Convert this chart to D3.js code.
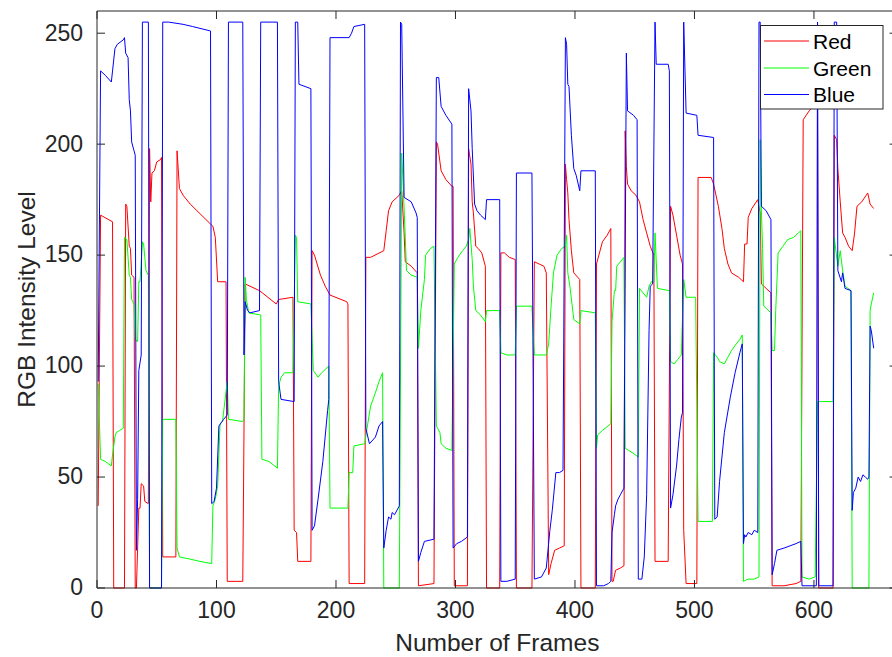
<!DOCTYPE html>
<html>
<head>
<meta charset="utf-8">
<script src="https://cdn.jsdelivr.net/npm/d3@7"></script>
<style>
  html, body { margin: 0; padding: 0; background: #fff; overflow: hidden; }
  svg { display: block; font-family: "Liberation Sans", Arial, Helvetica, sans-serif; }
</style>
</head>
<body>
<svg id="chart" width="892" height="657"></svg>
<script>
// ---- data (frame, intensity) ----
const redSeries = [[1,37],[3,168],[13,165],[14,0],[23,0],[24,173],[25,172],[27,154],[28,153],[29,141],[31,140],[32,0],[33,0],[35,36],[36,36],[37,47],[39,46],[40,39],[43,38],[44,198],[45,174],[46,187],[48,188],[50,192],[53,193],[54,194],[55,14],[66,14],[67,197],[69,180],[72,177],[78,173],[95,164],[97,163],[99,158],[101,138],[108,138],[109,3],[122,3],[124,137],[136,134],[150,128],[152,130],[164,131],[165,26],[167,25],[168,12],[179,12],[180,152],[182,150],[187,141],[191,136],[195,132],[209,129],[210,128],[211,2],[224,2],[225,149],[229,149],[240,152],[242,161],[244,170],[247,174],[253,177],[255,179],[257,160],[258,147],[263,145],[268,142],[269,1],[282,2],[284,201],[285,200],[288,188],[292,184],[297,181],[298,181],[299,1],[310,1],[311,198],[313,191],[314,174],[315,169],[317,154],[319,153],[322,151],[325,145],[326,0],[337,0],[338,151],[341,151],[345,149],[350,148],[351,0],[364,0],[366,147],[370,146],[374,145],[376,142],[378,6],[380,11],[383,17],[387,18],[391,19],[392,191],[393,184],[394,178],[395,166],[397,152],[399,142],[404,139],[405,0],[417,0],[418,146],[420,150],[423,156],[427,159],[430,162],[431,3],[432,3],[434,8],[438,9],[441,10],[442,206],[443,190],[444,182],[447,179],[451,177],[454,174],[457,166],[460,160],[463,154],[466,150],[467,12],[478,12],[480,172],[482,168],[485,159],[488,150],[490,146],[491,26],[493,2],[502,2],[503,185],[514,185],[516,182],[520,172],[523,162],[525,153],[528,146],[531,142],[537,140],[541,138],[542,155],[544,155],[545,167],[548,171],[553,175],[555,169],[556,137],[560,135],[564,133],[565,1],[575,1],[585,2],[589,3],[591,211],[596,215],[601,218],[603,220],[604,0],[616,0],[617,204],[619,202],[620,189],[622,174],[624,160],[626,158],[629,154],[632,152],[634,160],[636,172],[640,174],[645,178],[647,173],[650,171]];

const greenSeries = [[1,92],[3,58],[7,57],[12,55],[13,60],[15,68],[16,70],[19,71],[22,72],[23,158],[25,157],[27,141],[28,140],[29,130],[31,128],[32,112],[34,111],[35,138],[36,138],[38,156],[39,155],[41,143],[43,141],[44,0],[54,0],[55,76],[66,76],[67,18],[69,14],[78,13],[86,12],[96,11],[97,37],[99,40],[101,46],[103,74],[105,75],[109,93],[110,76],[122,75],[123,76],[124,140],[125,130],[127,124],[137,123],[138,58],[144,57],[151,54],[152,91],[154,95],[157,97],[164,97],[166,159],[167,158],[168,129],[179,128],[181,98],[185,95],[188,97],[194,100],[195,36],[210,36],[211,52],[214,52],[215,64],[224,65],[226,72],[229,82],[233,88],[236,93],[239,97],[240,0],[253,0],[255,196],[256,184],[258,158],[259,143],[263,141],[268,140],[269,108],[271,125],[274,139],[275,150],[279,153],[282,154],[284,73],[287,70],[288,65],[292,63],[297,62],[299,146],[302,149],[306,152],[309,154],[311,157],[312,162],[314,148],[315,136],[317,125],[321,123],[325,120],[326,125],[337,125],[338,106],[343,105],[350,105],[351,127],[364,127],[366,105],[376,105],[378,110],[380,127],[382,142],[385,150],[389,153],[392,154],[393,159],[394,142],[396,135],[399,121],[404,119],[405,125],[417,124],[418,63],[419,69],[423,71],[430,74],[431,120],[433,134],[434,134],[435,145],[438,147],[441,149],[442,63],[445,62],[448,61],[453,59],[454,135],[457,133],[460,131],[462,136],[464,138],[466,138],[467,160],[469,135],[479,134],[480,102],[483,101],[486,103],[489,105],[491,139],[493,131],[501,131],[503,30],[515,30],[516,106],[519,104],[521,102],[525,101],[528,104],[531,107],[535,110],[538,112],[540,114],[541,3],[545,4],[550,4],[554,5],[555,202],[556,170],[557,153],[558,127],[560,126],[564,124],[565,107],[567,107],[568,125],[570,151],[574,154],[578,157],[583,158],[589,161],[590,5],[596,4],[601,5],[603,84],[616,84],[617,158],[620,145],[622,152],[624,143],[626,136],[631,134],[632,0],[646,0],[647,125],[648,128],[650,133]];

const blueSeries = [[1,93],[3,233],[7,231],[12,228],[13,233],[15,243],[17,245],[22,247],[23,248],[24,241],[26,239],[27,220],[28,215],[29,201],[31,197],[32,195],[33,17],[34,40],[35,98],[37,105],[38,255],[43,255],[44,0],[54,0],[55,255],[60,255],[72,254],[80,253],[95,251],[96,38],[98,39],[100,45],[102,73],[106,76],[109,78],[110,255],[122,255],[123,105],[124,129],[126,125],[128,124],[136,125],[137,255],[151,255],[152,93],[154,85],[165,84],[166,255],[168,255],[169,227],[179,225],[180,26],[182,28],[185,40],[189,57],[193,80],[194,85],[195,248],[211,248],[213,250],[215,253],[224,254],[225,72],[228,65],[233,68],[236,73],[239,75],[240,18],[242,26],[244,32],[246,31],[247,34],[249,33],[253,37],[254,255],[255,254],[257,176],[263,174],[267,169],[268,167],[269,12],[271,16],[274,21],[282,22],[284,230],[286,230],[288,217],[292,213],[297,209],[298,18],[301,20],[305,21],[310,23],[311,225],[313,215],[314,198],[316,173],[318,170],[321,168],[325,166],[326,175],[337,175],[338,3],[343,3],[350,4],[351,187],[364,187],[366,4],[372,5],[376,9],[379,26],[381,35],[384,52],[387,52],[390,53],[392,248],[393,245],[394,227],[395,226],[397,204],[399,189],[401,186],[404,179],[405,188],[417,188],[418,1],[424,1],[428,2],[430,3],[431,25],[433,33],[434,37],[436,40],[438,42],[441,45],[443,241],[444,215],[449,213],[452,211],[453,4],[456,4],[458,14],[460,42],[462,116],[463,136],[465,137],[467,255],[468,236],[478,236],[479,233],[480,36],[482,42],[485,55],[487,67],[489,77],[490,79],[491,255],[493,214],[502,213],[503,204],[516,203],[517,31],[519,32],[521,48],[525,70],[530,86],[534,97],[538,106],[540,110],[541,20],[542,24],[543,23],[545,25],[548,24],[550,26],[553,25],[554,255],[555,255],[556,172],[560,170],[564,166],[565,6],[567,11],[569,17],[575,18],[580,19],[585,20],[589,21],[590,1],[602,1],[603,255],[604,1],[616,1],[617,255],[619,255],[620,143],[623,138],[624,142],[626,135],[631,134],[632,35],[633,43],[635,45],[637,50],[639,48],[641,51],[643,50],[645,49],[646,50],[647,118],[648,116],[650,108]];

const seriesNames = ["Red", "Green", "Blue"];
const xTicks = [0, 100, 200, 300, 400, 500, 600];
const yTicks = [0, 50, 100, 150, 200, 250];
const xLabel = "Number of Frames";
const yLabel = "RGB Intensity Level";

// ---- layout ----
// the axes box extends slightly past the right edge of the picture (as in the reference)
const plot = { left: 97, right: 897.6, top: 11, bottom: 588 };
const colors = ["#ff0000", "#00ff00", "#0000ff"];
const axisColor = "#262626";

const svg = d3.select("#chart");
const x = d3.scaleLinear().domain([0, 670]).range([plot.left, plot.right]);
const y = d3.scaleLinear().domain([0, 260]).range([plot.bottom, plot.top]);

svg.append("rect").attr("width", 892).attr("height", 657).attr("fill", "#fff");

// ---- series ----
const line = d3.line().x(d => x(d[0])).y(d => y(d[1]));
const allSeries = [redSeries, greenSeries, blueSeries];
const gLines = svg.append("g");
allSeries.forEach((s, i) => {
  gLines.append("path")
    .datum(s)
    .attr("d", line)
    .attr("fill", "none")
    .attr("stroke", colors[i])
    .attr("stroke-width", 1)
    .attr("stroke-linejoin", "round");
});

// ---- axes ----
function styleAxis(g) {
  g.selectAll(".domain").attr("stroke", axisColor).attr("stroke-width", 1);
  g.selectAll(".tick line").attr("stroke", axisColor).attr("stroke-width", 1);
  g.selectAll(".tick text").attr("fill", axisColor).style("font-size", "23px")
    .style("font-family", '"Liberation Sans", Arial, Helvetica, sans-serif');
}

const xAxis = d3.axisBottom(x).tickValues(xTicks).tickSizeInner(-8).tickSizeOuter(0).tickPadding(14).offset(0);
svg.append("g").attr("transform", `translate(0,${plot.bottom})`).call(xAxis).call(styleAxis);

const xAxisTop = d3.axisTop(x).tickValues(xTicks).tickSizeInner(-8).tickSizeOuter(0).tickFormat("").offset(0);
svg.append("g").attr("transform", `translate(0,${plot.top})`).call(xAxisTop).call(styleAxis);

const yAxis = d3.axisLeft(y).tickValues(yTicks).tickSizeInner(-8).tickSizeOuter(0).tickPadding(14).offset(0);
svg.append("g").attr("transform", `translate(${plot.left},0)`).call(yAxis).call(styleAxis);

const yAxisRight = d3.axisRight(y).tickValues(yTicks).tickSizeInner(-8).tickSizeOuter(0).tickFormat("").offset(0);
svg.append("g").attr("transform", `translate(${plot.right},0)`).call(yAxisRight).call(styleAxis);

// ---- axis labels ----
svg.append("text")
  .attr("x", (plot.left + plot.right) / 2)
  .attr("y", 651)
  .attr("text-anchor", "middle")
  .attr("fill", axisColor)
  .style("font-size", "24.5px")
  .text(xLabel);

svg.append("text")
  .attr("transform", `translate(35,${(plot.top + plot.bottom) / 2}) rotate(-90)`)
  .attr("text-anchor", "middle")
  .attr("fill", axisColor)
  .style("font-size", "24.5px")
  .text(yLabel);

// ---- legend ----
const lg = svg.append("g");
lg.append("rect")
  .attr("x", 760.5).attr("y", 25.5).attr("width", 122.5).attr("height", 83.5)
  .attr("fill", "#fff").attr("stroke", axisColor).attr("stroke-width", 1);
const rowY = [41, 68, 94.5];
seriesNames.forEach((name, i) => {
  lg.append("line")
    .attr("x1", 764).attr("x2", 809)
    .attr("y1", rowY[i]).attr("y2", rowY[i])
    .attr("stroke", colors[i]).attr("stroke-width", 1);
  lg.append("text")
    .attr("x", 813).attr("y", rowY[i])
    .attr("dy", "0.36em")
    .attr("fill", "#000")
    .style("font-size", "21px")
    .text(name);
});
</script>
</body>
</html>
